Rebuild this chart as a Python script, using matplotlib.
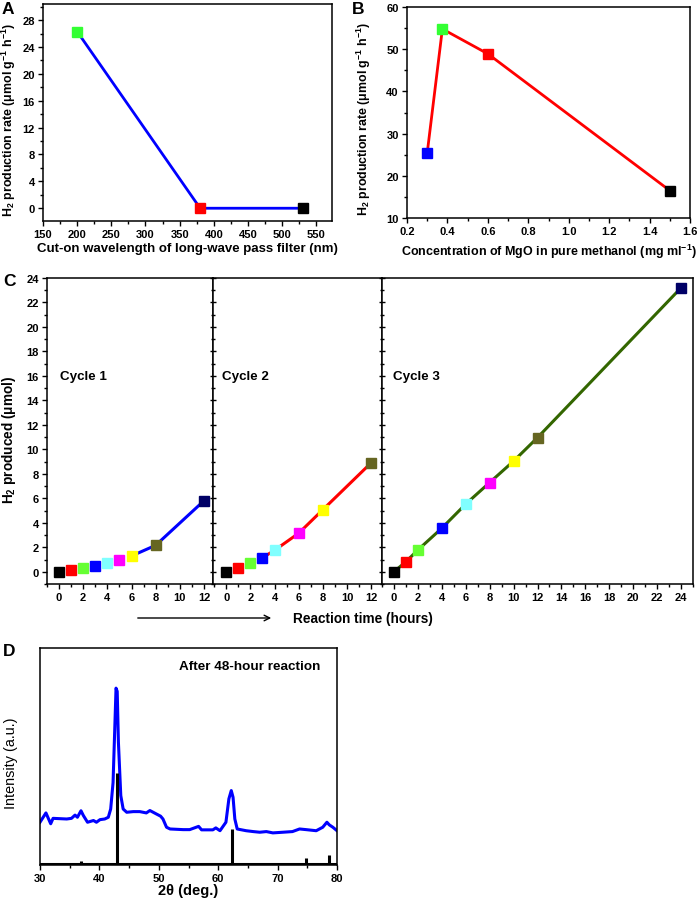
import matplotlib
matplotlib.use("Agg")
import matplotlib.pyplot as plt
from matplotlib.ticker import MultipleLocator

plt.rcParams['font.family'] = ['Liberation Sans', 'DejaVu Sans']
plt.rcParams['font.weight'] = 'bold'
plt.rcParams['mathtext.fontset'] = 'custom'
plt.rcParams['mathtext.rm'] = 'Liberation Sans:bold'
plt.rcParams['mathtext.it'] = 'Liberation Sans:bold'
plt.rcParams['mathtext.bf'] = 'Liberation Sans:bold'
plt.rcParams['mathtext.default'] = 'rm'
plt.rcParams['axes.linewidth'] = 1.1

# ---------------- Data ----------------
# Panel A
a_wavelength = [200, 380, 530]
a_rate = [26.3, 0.0, 0.0]
a_colors = ['#33ff33', '#ff0000', '#000000']

# Panel B
b_conc = [0.30, 0.375, 0.60, 1.50]
b_rate = [25.4, 54.8, 48.9, 16.5]
b_colors = ['#0000ff', '#33ff33', '#ff0000', '#000000']

# Panel C
c1_time = [0, 1, 2, 3, 4, 5, 6, 8, 12]
c1_h2 = [0.0, 0.16, 0.30, 0.44, 0.68, 0.99, 1.29, 2.16, 5.8]
c1_colors = ['#000000', '#ff0000', '#66ff33', '#0000ff', '#80ffff', '#ff00ff', '#ffff00', '#666622', '#000066']

c2_time = [0, 1, 2, 3, 4, 6, 8, 12]
c2_h2 = [0.0, 0.27, 0.68, 1.15, 1.75, 3.15, 5.07, 8.9]
c2_colors = ['#000000', '#ff0000', '#66ff33', '#0000ff', '#80ffff', '#ff00ff', '#ffff00', '#666622']

c3_time = [0, 1, 2, 4, 6, 8, 10, 12, 24]
c3_h2 = [0.0, 0.82, 1.78, 3.56, 5.53, 7.29, 9.04, 10.96, 23.2]
c3_colors = ['#000000', '#ff0000', '#66ff33', '#0000ff', '#80ffff', '#ff00ff', '#ffff00', '#666622', '#000066']

# Panel D
d_2theta = [30.0, 31.0, 31.8, 32.2, 34.5, 35.3, 35.9, 36.3, 36.9, 37.3, 38.0, 39.0, 39.5,
            40.1, 40.9, 41.5, 41.9, 42.3, 42.6, 42.8, 43.0, 43.2, 43.6, 44.0, 44.6, 45.7,
            46.8, 47.9, 48.5, 49.6, 50.3, 50.7, 51.3, 51.9, 54.1, 55.2, 56.7, 57.2, 59.1,
            59.6, 60.3, 61.3, 61.8, 62.2, 62.5, 62.8, 63.2, 64.7, 65.9, 67.0, 68.1, 69.2,
            70.9, 72.5, 73.7, 74.8, 76.5, 77.6, 78.3, 78.7, 79.3, 80.0]
d_intensity = [0.197, 0.24, 0.19, 0.215, 0.212, 0.215, 0.23, 0.22, 0.25, 0.228, 0.197, 0.205, 0.197,
               0.209, 0.212, 0.22, 0.258, 0.38, 0.64, 0.815, 0.80, 0.566, 0.32, 0.258, 0.243, 0.246,
               0.246, 0.240, 0.251, 0.235, 0.225, 0.212, 0.174, 0.166, 0.163, 0.163, 0.178, 0.162, 0.162,
               0.171, 0.158, 0.197, 0.305, 0.343, 0.312, 0.212, 0.166, 0.158, 0.154, 0.151, 0.154, 0.148,
               0.151, 0.154, 0.166, 0.163, 0.158, 0.174, 0.197, 0.185, 0.174, 0.158]
ref_2theta = [36.9, 42.9, 62.3, 74.7, 78.6]
ref_height = [0.02, 0.424, 0.166, 0.03, 0.045]

W, H = 700, 903
fig = plt.figure(figsize=(7.0, 9.03), dpi=100)

def rect(l, t, r, b):
    return [l / W, 1 - b / H, (r - l) / W, (b - t) / H]

tick_fs = 8

def style(ax):
    ax.tick_params(which='both', direction='out', top=False, right=False,
                   labelsize=tick_fs, width=1.0, pad=2.5)
    ax.tick_params(which='major', length=3.5)
    ax.tick_params(which='minor', length=2)
    for lbl in ax.get_xticklabels() + ax.get_yticklabels():
        lbl.set_fontweight('bold')

# ---------------- Panel A ----------------
axA = fig.add_axes(rect(43, 5, 332, 222))
axA.plot(a_wavelength, a_rate, color='#0000ff', lw=2.0, zorder=2)
for x, y, c in zip(a_wavelength, a_rate, a_colors):
    axA.plot(x, y, 's', color=c, ms=7, zorder=3)
axA.set_xlim(150, 573)
axA.set_ylim(-1.9, 30.4)
axA.xaxis.set_minor_locator(MultipleLocator(25))
axA.yaxis.set_major_locator(MultipleLocator(4))
axA.yaxis.set_minor_locator(MultipleLocator(2))
axA.set_xticks(range(150, 551, 50))
style(axA)
axA.set_xlabel('Cut-on wavelength of long-wave pass filter (nm)', fontsize=9.5, fontweight='bold')
axA.set_ylabel('H$_2$ production rate (μmol g$^{−1}$ h$^{−1}$)', fontsize=8.9, fontweight='bold')
axA.xaxis.set_label_coords(0.5, -0.097)
axA.yaxis.set_label_coords(-0.085, 0.47)

# ---------------- Panel B ----------------
axB = fig.add_axes(rect(407, 8, 690, 219))
axB.plot(b_conc, b_rate, color='#ff0000', lw=2.0, zorder=2)
for x, y, c in zip(b_conc, b_rate, b_colors):
    axB.plot(x, y, 's', color=c, ms=7, zorder=3)
axB.set_xlim(0.2, 1.6)
axB.set_ylim(10, 60)
axB.xaxis.set_major_locator(MultipleLocator(0.2))
axB.xaxis.set_minor_locator(MultipleLocator(0.1))
axB.yaxis.set_major_locator(MultipleLocator(10))
axB.yaxis.set_minor_locator(MultipleLocator(5))
style(axB)
axB.set_xlabel('Concentration of MgO in pure methanol (mg ml$^{−1}$)', fontsize=9.0, fontweight='bold')
axB.set_ylabel('H$_2$ production rate (μmol g$^{−1}$ h$^{−1}$)', fontsize=8.9, fontweight='bold')
axB.xaxis.set_label_coords(0.5, -0.112)
axB.yaxis.set_label_coords(-0.12, 0.474)

# ---------------- Panel C ----------------
axC1 = fig.add_axes(rect(47, 279, 213, 585))
axC2 = fig.add_axes(rect(213, 279, 382, 585))
axC3 = fig.add_axes(rect(382, 279, 693, 585))

def cycle(ax, t, h, cols, line_color, line_start, xlim, xmax_tick, label, lx):
    ax.plot(t[line_start:], h[line_start:], color=line_color, lw=2.2, zorder=2)
    for x, y, c in zip(t, h, cols):
        ax.plot(x, y, 's', color=c, ms=7.2, zorder=3)
    ax.set_xlim(*xlim)
    ax.set_ylim(-1, 24)
    ax.set_xticks(range(0, xmax_tick + 1, 2))
    ax.xaxis.set_minor_locator(MultipleLocator(1))
    ax.yaxis.set_major_locator(MultipleLocator(2))
    ax.yaxis.set_minor_locator(MultipleLocator(1))
    style(ax)
    ax.text(lx, 16, label, fontsize=9.6, fontweight='bold', ha='left', va='center')

cycle(axC1, c1_time, c1_h2, c1_colors, '#0000ff', 6, (-1.0, 12.75), 12, 'Cycle 1', 0.05)
cycle(axC2, c2_time, c2_h2, c2_colors, '#ff0000', 3, (-1.1, 12.9), 12, 'Cycle 2', -0.35)
cycle(axC3, c3_time, c3_h2, c3_colors, '#336600', 0, (-1.0, 25.0), 24, 'Cycle 3', -0.1)
for ax in (axC2, axC3):
    ax.tick_params(axis='y', which='both', labelleft=False, direction='inout')
    ax.tick_params(axis='y', which='major', length=5)
    ax.tick_params(axis='y', which='minor', length=3)
axC1.set_ylabel('H$_2$ produced (μmol)', fontsize=9.8, fontweight='bold')
axC1.yaxis.set_label_coords(-0.175, 0.475)

fig.add_artist(matplotlib.patches.FancyArrowPatch(
    (135 / W, 1 - 619 / H), (274 / W, 1 - 619 / H), transform=fig.transFigure,
    arrowstyle='->', mutation_scale=10, lw=1.0, color='black'))
fig.text(293 / W, 1 - 619 / H, 'Reaction time (hours)', fontsize=9.8, fontweight='bold',
         ha='left', va='center')

# ---------------- Panel D ----------------
axD = fig.add_axes(rect(40, 649, 337, 866))
axD.plot(d_2theta, d_intensity, color='#0000ff', lw=2.2, zorder=2)
axD.vlines(ref_2theta, 0, ref_height, color='black', lw=2.2, zorder=3)
axD.plot([30, 80], [0.004, 0.004], color='black', lw=2.2, zorder=3)
axD.set_xlim(30, 80)
axD.set_ylim(0, 1)
axD.xaxis.set_major_locator(MultipleLocator(10))
axD.xaxis.set_minor_locator(MultipleLocator(5))
axD.set_yticks([])
style(axD)
axD.set_xlabel('2θ (deg.)', fontsize=10.5, fontweight='bold')
axD.xaxis.set_label_coords(0.5, -0.085)
axD.set_ylabel('Intensity (a.u.)', fontsize=10.4, fontweight='normal')
axD.yaxis.set_label_coords(-0.074, 0.475)
axD.text(65.3, 0.917, 'After 48-hour reaction', fontsize=9.7, fontweight='bold',
         ha='center', va='center')

# Panel letters
fig.text(2 / W, 1 - 9 / H, 'A', fontsize=12.5, fontweight='bold', ha='left', va='center')
fig.text(352 / W, 1 - 9 / H, 'B', fontsize=12.5, fontweight='bold', ha='left', va='center')
fig.text(3 / W, 1 - 282 / H, 'C', fontsize=12.5, fontweight='bold', ha='left', va='center')
fig.text(3 / W, 1 - 652 / H, 'D', fontsize=12.5, fontweight='bold', ha='left', va='center')

fig.savefig('out.png', dpi=100)
